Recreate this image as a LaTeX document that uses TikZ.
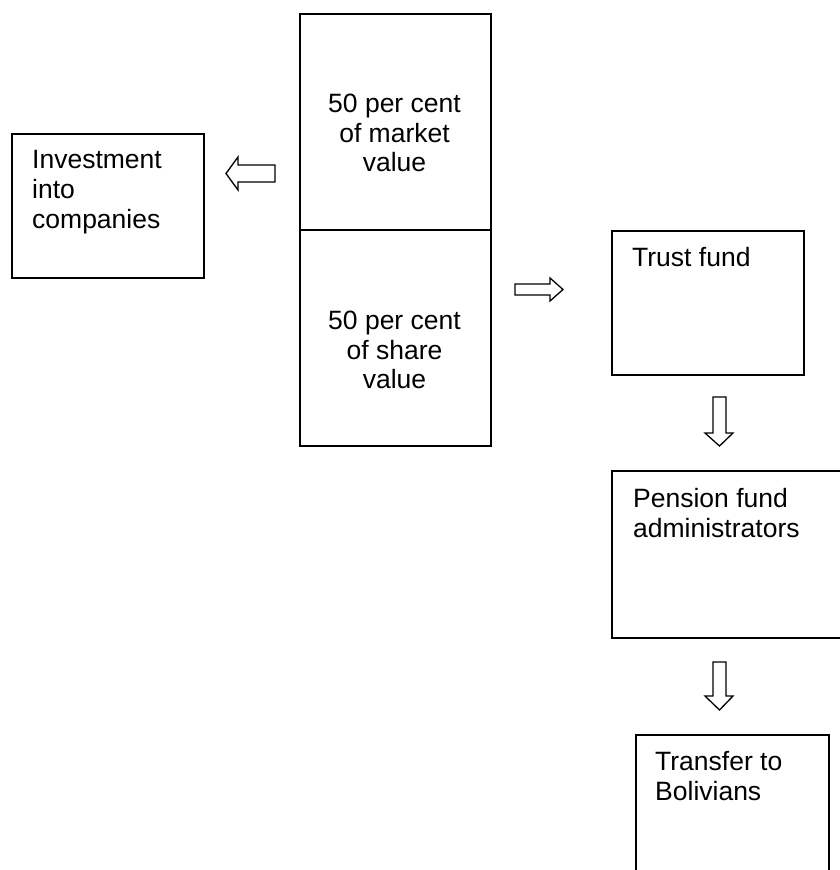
\documentclass[tikz,border=0pt]{standalone}
\usepackage{fontspec}
\setmainfont{Liberation Sans}
\begin{document}
\begin{tikzpicture}[x=1pt,y=1pt,
  box/.style={draw=black, line width=1.7pt, rectangle, inner sep=0pt, anchor=north west},
  txt/.style={inner sep=0pt, font=\fontsize{26.5}{30}\selectfont, align=left, anchor=north west},
  ctxt/.style={inner sep=0pt, font=\fontsize{26.5}{29.5}\selectfont, align=center, anchor=north},
  blockarrow/.style={draw=black, line width=1.3pt, fill=white, line join=miter}]
\useasboundingbox (0,0) rectangle (840,-870);

% boxes
\node[box, minimum width=192pt, minimum height=144pt] (inv) at (11,-133) {};
\node[box, minimum width=191pt, minimum height=216pt] (mv) at (299,-13) {};
\node[box, minimum width=191pt, minimum height=216pt] (sv) at (299,-229) {};
\node[box, minimum width=192pt, minimum height=144pt] (trust) at (611,-230) {};
\node[box, minimum width=245pt, minimum height=167pt] (pens) at (611,-470) {};
\node[box, minimum width=193pt, minimum height=160pt] (trans) at (635,-734) {};

% texts
\node[txt] (invt) at ([xshift=21pt,yshift=-17pt]inv.north west) {Investment\\into\\companies};
\node[ctxt] (mvt) at (394.5,-94) {50 per cent\\of market\\value};
\node[ctxt] (svt) at (394.5,-311) {50 per cent\\of share\\value};
\node[txt] (trustt) at ([xshift=21pt,yshift=-17pt]trust.north west) {Trust fund};
\node[txt] (penst) at ([xshift=22pt,yshift=-18pt]pens.north west) {Pension fund\\administrators};
\node[txt] (transt) at ([xshift=20pt,yshift=-17pt]trans.north west) {Transfer to\\Bolivians};

% block arrows
\draw[blockarrow] (275,-165) -- (238,-165) -- (238,-157) -- (226,-173.5) -- (238,-190) -- (238,-182) -- (275,-182) -- cycle;
\draw[blockarrow] (515,-284) -- (550,-284) -- (550,-278) -- (563,-289.5) -- (550,-301) -- (550,-295) -- (515,-295) -- cycle;
\draw[blockarrow] (713,-397) -- (713,-433) -- (705,-433) -- (719.5,-446) -- (733,-433) -- (726,-433) -- (726,-397) -- cycle;
\draw[blockarrow] (713,-662) -- (713,-696) -- (705,-696) -- (719.5,-710) -- (733,-696) -- (726,-696) -- (726,-662) -- cycle;
\end{tikzpicture}
\end{document}
